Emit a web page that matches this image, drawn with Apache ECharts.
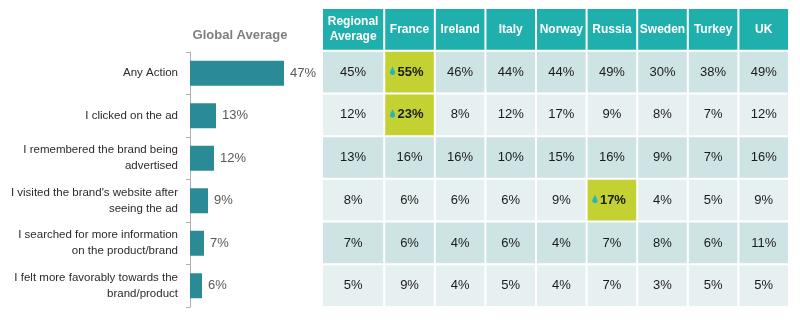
<!DOCTYPE html>
<html>
<head>
<meta charset="utf-8">
<script src="https://cdn.jsdelivr.net/npm/echarts@6/dist/echarts.min.js"></script>
<style>
  html, body { margin: 0; padding: 0; background: #fff; }
  #chart { width: 800px; height: 330px; }
</style>
</head>
<body>
<div id="chart"></div>
<script>
// Actions measured, with the global average share for each
const actions = [
  'Any Action',
  'I clicked on the ad',
  'I remembered the brand being\nadvertised',
  "I visited the brand's website after\nseeing the ad",
  'I searched for more information\non the product/brand',
  'I felt more favorably towards the\nbrand/product'
];
const globalAverage = [47, 13, 12, 9, 7, 6];

// Table columns
const regions = ['Regional\nAverage', 'France', 'Ireland', 'Italy', 'Norway', 'Russia', 'Sweden', 'Turkey', 'UK'];
const regionalAverage = [45, 12, 13, 8, 7, 5];
const france  = [55, 23, 16, 6, 6, 9];
const ireland = [46, 8, 16, 6, 4, 4];
const italy   = [44, 12, 10, 6, 6, 5];
const norway  = [44, 17, 15, 9, 4, 4];
const russia  = [49, 9, 16, 17, 7, 7];
const sweden  = [30, 8, 9, 4, 8, 3];
const turkey  = [38, 7, 7, 5, 6, 5];
const uk      = [49, 12, 16, 9, 11, 5];

// Cells that stand out: [column, row]
const flagged = [[1, 0], [1, 1], [5, 3]];

const columns = [regionalAverage, france, ireland, italy, norway, russia, sweden, turkey, uk];

// Column widths in table units (the average column is a bit wider)
const colWeights = regions.map((_, i) => (i === 0 ? 1.23 : 1));
const colEdges = [0];
colWeights.forEach(w => colEdges.push(colEdges[colEdges.length - 1] + w));

const isFlagged = (c, r) => flagged.some(f => f[0] === c && f[1] === r);

const headerData = regions.map((_, c) => [c, 0]);
const bodyData = [];
columns.forEach((vals, c) => vals.forEach((v, r) => bodyData.push([c, r + 1, v])));

const FONT = '"Liberation Sans", Arial, sans-serif';

// Drop-shaped marker outline, relative to its centre
const dropOutline = [
  [0, -5.5], [1.2, -3], [2.5, -0.5], [2.6, 1], [2, 2.3], [0, 3],
  [-2, 2.3], [-2.6, 1], [-2.5, -0.5], [-1.2, -3]
];

function cellBox(api, col, row) {
  const a = api.coord([colEdges[col], row]);
  const b = api.coord([colEdges[col + 1], row]);
  const h = api.size([0, 1])[1];
  return { x: a[0] + 1, y: a[1] - h / 2 + 1, width: b[0] - a[0] - 2, height: h - 2 };
}

const chart = echarts.init(document.getElementById('chart'), null, { renderer: 'canvas' });

chart.setOption({
  backgroundColor: '#ffffff',
  animation: false,
  title: {
    text: 'Global Average',
    left: 235,
    top: 24,
    textAlign: 'center',
    textStyle: { fontFamily: FONT, fontSize: 13, fontWeight: 'bold', color: '#7f7f7f' }
  },
  grid: [
    { left: 190, top: 52, width: 100, height: 255 },
    { left: 322, top: 8, width: 467, height: 299 }
  ],
  xAxis: [
    { gridIndex: 0, type: 'value', min: 0, max: 50, show: false },
    { gridIndex: 1, type: 'value', min: 0, max: colEdges[colEdges.length - 1], show: false }
  ],
  yAxis: [
    {
      gridIndex: 0,
      type: 'category',
      data: actions,
      inverse: true,
      axisLine: { show: true, lineStyle: { color: '#b0b0b0', width: 1 } },
      axisTick: { show: true, length: 4, lineStyle: { color: '#b0b0b0' } },
      axisLabel: {
        margin: 12,
        fontFamily: FONT,
        fontSize: 11.5,
        lineHeight: 16,
        color: '#2b2b2b',
        align: 'right'
      }
    },
    {
      gridIndex: 1,
      type: 'category',
      data: ['header'].concat(actions),
      inverse: true,
      show: false
    }
  ],
  series: [
    {
      type: 'bar',
      xAxisIndex: 0,
      yAxisIndex: 0,
      data: globalAverage,
      barWidth: 25,
      itemStyle: { color: '#2a8b96' },
      label: {
        show: true,
        position: 'right',
        distance: 6,
        formatter: '{c}%',
        fontFamily: FONT,
        fontSize: 13,
        color: '#595959'
      }
    },
    {
      type: 'custom',
      xAxisIndex: 1,
      yAxisIndex: 1,
      data: headerData,
      renderItem: function (params, api) {
        const col = api.value(0);
        const box = cellBox(api, col, 0);
        return {
          type: 'group',
          children: [
            { type: 'rect', shape: box, style: { fill: '#1fb0ad' } },
            {
              type: 'text',
              style: {
                text: regions[col],
                x: box.x + box.width / 2,
                y: box.y + box.height / 2,
                align: 'center',
                verticalAlign: 'middle',
                fontFamily: FONT,
                fontSize: 12,
                fontWeight: 'bold',
                lineHeight: 15,
                fill: '#ffffff'
              }
            }
          ]
        };
      }
    },
    {
      type: 'custom',
      xAxisIndex: 1,
      yAxisIndex: 1,
      data: bodyData,
      renderItem: function (params, api) {
        const col = api.value(0);
        const row = api.value(1);
        const v = api.value(2);
        const box = cellBox(api, col, row);
        const hot = isFlagged(col, row - 1);
        const fill = hot ? '#c3d232' : (row % 2 === 1 ? '#cde3e4' : '#e6f0f1');
        const cx = box.x + box.width / 2;
        const cy = box.y + box.height / 2;
        const children = [
          { type: 'rect', shape: box, style: { fill: fill } },
          {
            type: 'text',
            style: {
              text: v + '%',
              x: cx + (hot ? 1 : 0),
              y: cy,
              align: 'center',
              verticalAlign: 'middle',
              fontFamily: FONT,
              fontSize: 13,
              fontWeight: hot ? 'bold' : 'normal',
              fill: '#1a1a1a'
            }
          }
        ];
        if (hot) {
          children.push({
            type: 'polygon',
            shape: { points: dropOutline.map(p => [cx - 17 + p[0], cy + p[1]]) },
            style: { fill: '#26b4bd' }
          });
        }
        return { type: 'group', children: children };
      }
    }
  ]
});
</script>
</body>
</html>
